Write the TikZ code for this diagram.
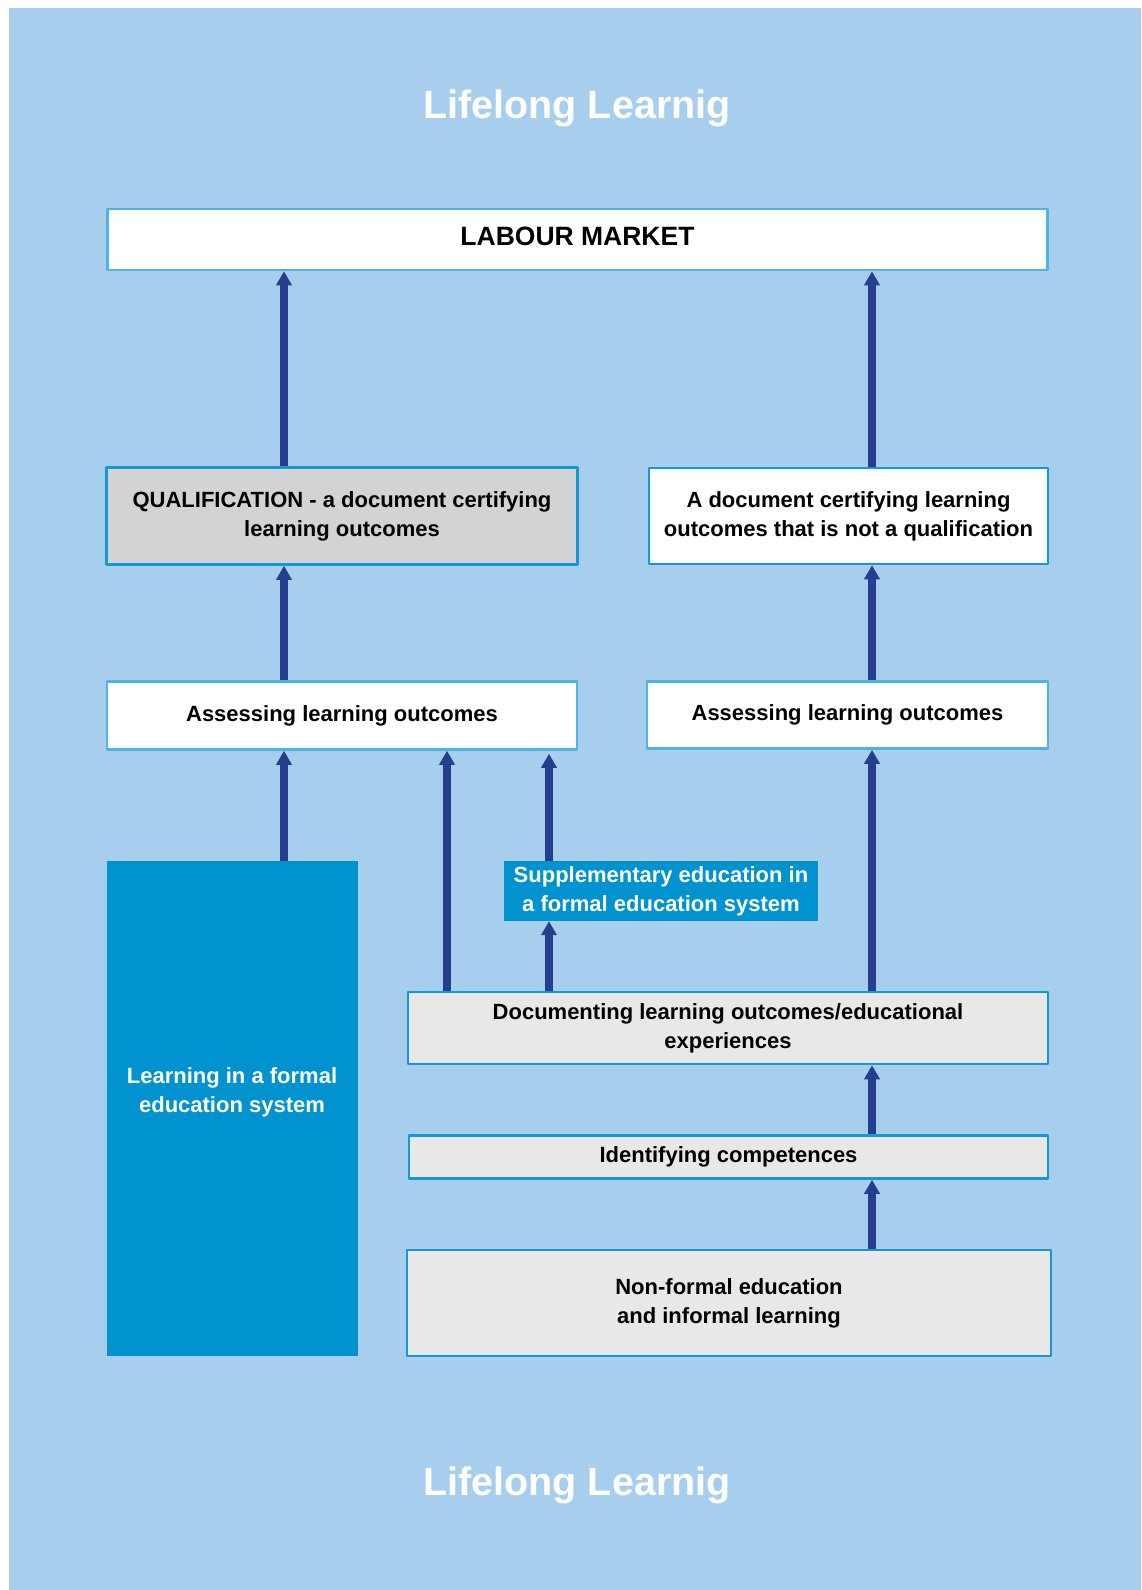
\documentclass[tikz,border=0pt]{standalone}
\usepackage{fontspec}
\setmainfont{Liberation Sans}
\usetikzlibrary{arrows.meta}
\definecolor{bgblue}{RGB}{168,206,238}
\definecolor{lineblue}{RGB}{78,180,226}
\definecolor{darkline}{RGB}{20,152,214}
\definecolor{formalblue}{RGB}{0,147,208}
\definecolor{arrowblue}{RGB}{37,63,142}
\definecolor{qualgray}{RGB}{209,211,212}
\definecolor{lightgray}{RGB}{232,232,233}
\begin{document}
\begin{tikzpicture}[x=1pt, y=-1pt, font=\fontsize{22}{29}\selectfont\bfseries, line join=round,
    >={Triangle[width=15pt,length=14pt]},
    box/.style={draw=lineblue, line width=2.5pt, fill=white, align=center, inner sep=0pt},
    darkbox/.style={box, draw=darkline},
    graybox/.style={darkbox, fill=lightgray},
    solidbox/.style={fill=formalblue, text=white, align=center, inner sep=0pt},
    title/.style={text=white, font=\fontsize{39.5}{44}\selectfont\bfseries},
    arr/.style={->, draw=arrowblue, line width=7.5pt}]
    \fill[white] (0,0) rectangle (1141,1590);
    \fill[bgblue] (9,8) rectangle (1141,1590);
    \useasboundingbox (0,0) rectangle (1141,1590);
    \coordinate (colA) at (284,0);
    \coordinate (colB) at (447,0);
    \coordinate (colC) at (549,0);
    \coordinate (colD) at (872,0);
    \node[title] (toptitle) at (577,108) {Lifelong Learnig};
    \node[title] (bottitle) at (577,1485) {Lifelong Learnig};
    \node[box, minimum width=940, minimum height=61] (labour) at (577.5,239.5) {};
    \node[font=\fontsize{26.5}{29}\selectfont\bfseries] (labourtxt) at ([yshift=3pt]labour.center) {LABOUR MARKET};
    \node[darkbox, fill=qualgray, minimum width=471, minimum height=97] (qual) at (342,516) {QUALIFICATION - a document certifying\\learning outcomes};
    \node[darkbox, minimum width=399, minimum height=96] (cert) at (848.5,516) {A document certifying learning\\outcomes that is not a qualification};
    \node[box, minimum width=470, minimum height=68] (assessL) at (342,715.5) {Assessing learning outcomes};
    \node[box, minimum width=401, minimum height=67] (assessR) at (847.5,715) {Assessing learning outcomes};
    \node[solidbox, minimum width=251, minimum height=495] (formal) at (232,1108.5) {};
    \node[text=white, align=center] (formaltxt) at ([yshift=16pt]formal.center) {Learning in a formal\\education system};
    \node[solidbox, minimum width=314, minimum height=60] (suppl) at (661,891) {Supplementary education in\\a formal education system};
    \node[graybox, minimum width=640, minimum height=72] (docum) at (728,1028) {Documenting learning outcomes/educational\\experiences};
    \node[graybox, minimum width=639, minimum height=43] (ident) at (728.5,1157) {Identifying competences};
    \node[graybox, minimum width=644, minimum height=106] (nonf) at (729,1303) {Non-formal education\\and informal learning};
    \draw[arr] (qual.north -| colA) -- (labour.south -| colA);
    \draw[arr] (cert.north -| colD) -- (labour.south -| colD);
    \draw[arr] (assessL.north -| colA) -- (qual.south -| colA);
    \draw[arr] (assessR.north -| colD) -- (cert.south -| colD);
    \draw[arr] (formal.north -| colA) -- (assessL.south -| colA);
    \draw[arr] (docum.north -| colB) -- (assessL.south -| colB);
    \draw[arr, shorten >=3pt] (suppl.north -| colC) -- (assessL.south -| colC);
    \draw[arr] (docum.north -| colC) -- (suppl.south -| colC);
    \draw[arr] (docum.north -| colD) -- (assessR.south -| colD);
    \draw[arr] (ident.north -| colD) -- (docum.south -| colD);
    \draw[arr] (nonf.north -| colD) -- (ident.south -| colD);
\end{tikzpicture}
\end{document}
